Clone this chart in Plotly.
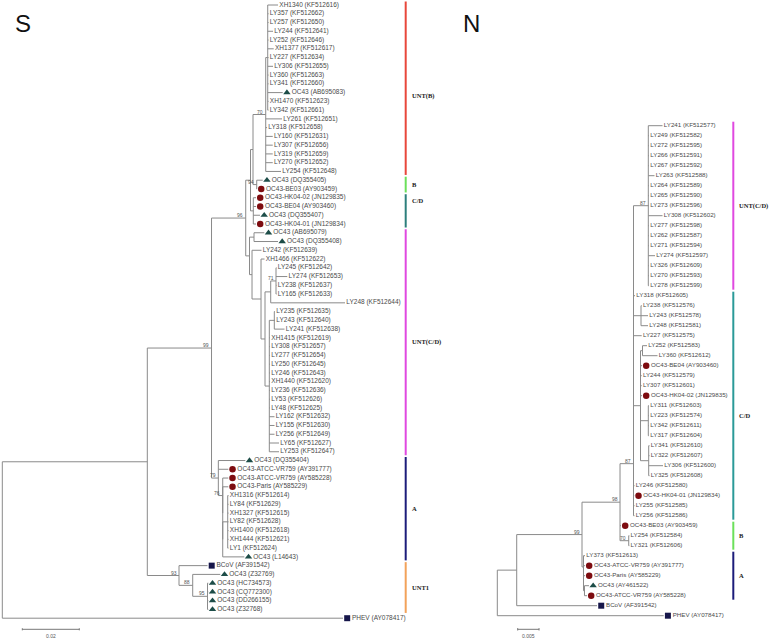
import plotly.graph_objects as go

# ---------------- data ----------------
S_LEAVES = [
    "XH1340 (KF512616)", "LY357 (KF512662)", "LY257 (KF512650)", "LY244 (KF512641)", "LY252 (KF512646)",
    "XH1377 (KF512617)", "LY227 (KF512634)", "LY306 (KF512655)", "LY360 (KF512663)", "LY341 (KF512660)",
    "OC43 (AB695083)", "XH1470 (KF512623)", "LY342 (KF512661)", "LY261 (KF512651)", "LY318 (KF512658)",
    "LY160 (KF512631)", "LY307 (KF512656)", "LY319 (KF512659)", "LY270 (KF512652)", "LY254 (KF512648)",
    "OC43 (DQ355405)", "OC43-BE03 (AY903459)", "OC43-HK04-02 (JN129835)", "OC43-BE04 (AY903460)",
    "OC43 (DQ355407)", "OC43-HK04-01 (JN129834)", "OC43 (AB695079)", "OC43 (DQ355408)",
    "LY242 (KF512639)", "XH1466 (KF512622)", "LY245 (KF512642)", "LY274 (KF512653)", "LY238 (KF512637)",
    "LY165 (KF512633)", "LY248 (KF512644)", "LY235 (KF512635)", "LY243 (KF512640)", "LY241 (KF512638)",
    "XH1415 (KF512619)", "LY308 (KF512657)", "LY277 (KF512654)", "LY250 (KF512645)", "LY246 (KF512643)",
    "XH1440 (KF512620)", "LY236 (KF512636)", "LY53 (KF512626)", "LY48 (KF512625)", "LY162 (KF512632)",
    "LY155 (KF512630)", "LY256 (KF512649)", "LY65 (KF512627)", "LY253 (KF512647)",
    "OC43 (DQ355404)", "OC43-ATCC-VR759 (AY391777)", "OC43-ATCC-VR759 (AY585228)", "OC43-Paris (AY585229)",
    "XH1316 (KF512614)", "LY84 (KF512629)", "XH1327 (KF512615)", "LY82 (KF512628)", "XH1400 (KF512618)",
    "XH1444 (KF512621)", "LY1 (KF512624)", "OC43 (L14643)",
    "BCoV (AF391542)", "OC43 (Z32769)", "OC43 (HC734573)", "OC43 (CQ772300)", "OC43 (DD266155)",
    "OC43 (Z32768)", "PHEV (AY078417)",
]

N_LEAVES = [
    "LY241 (KF512577)", "LY249 (KF512582)", "LY272 (KF512595)", "LY266 (KF512591)", "LY267 (KF512592)",
    "LY263 (KF512588)", "LY264 (KF512589)", "LY265 (KF512590)", "LY273 (KF512596)", "LY308 (KF512602)",
    "LY277 (KF512598)", "LY262 (KF512587)", "LY271 (KF512594)", "LY274 (KF512597)", "LY326 (KF512609)",
    "LY270 (KF512593)", "LY278 (KF512599)",
    "LY318 (KF512605)", "LY238 (KF512576)", "LY243 (KF512578)", "LY248 (KF512581)", "LY227 (KF512575)",
    "LY252 (KF512583)", "LY360 (KF512612)", "OC43-BE04 (AY903460)", "LY244 (KF512579)", "LY307 (KF512601)",
    "OC43-HK04-02 (JN129835)", "LY311 (KF512603)", "LY223 (KF512574)", "LY342 (KF512611)", "LY317 (KF512604)",
    "LY341 (KF512610)", "LY322 (KF512607)", "LY306 (KF512600)", "LY325 (KF512608)", "LY246 (KF512580)",
    "OC43-HK04-01 (JN129834)", "LY255 (KF512585)", "LY256 (KF512586)",
    "OC43-BE03 (AY903459)", "LY254 (KF512584)", "LY321 (KF512606)",
    "LY373 (KF512613)", "OC43-ATCC-VR759 (AY391777)", "OC43-Paris (AY585229)", "OC43 (AY461522)",
    "OC43-ATCC-VR759 (AY585228)",
    "BCoV (AF391542)", "PHEV (AY078417)",
]

# Newick topologies (leaf = index into the leaf list, internal label = bootstrap, :branch length)
S_TREE = """
(((
 (
  (
   (
    ((0:0.00361,1:0.00028,2:0.00028,3:0.00186,4:0.00028,5:0.00211,6:0.00028,7:0.00186,8:0.00028,
      9:0.00028,10:0.00526,11:0.00028,12:0.00028):0.00070,
     13:0.00572,14:0.00046,15:0.00246,16:0.00246,17:0.00246,18:0.00246,19:0.00537)70:0.00446,
    (20:0.00211,21:0.00011)94:0.00130
   ):0.00088,
   (22:0.00095,23:0.00095,24:0.00235,25:0.00095):0.00098
  ):0.00168,
  (
   (26:0.00361,27:0.00842):0.00158,
   (28:0.00333,
    (29:0.00123,
     (((30:0.00018,31:0.00396,32:0.00018,33:0.00018)71:0.00186,34:0.02607):0.00200,
      ((35:0.00025,36:0.00025,37:0.00358):0.00175,38:0.00025,39:0.00025,40:0.00025,41:0.00025,
       42:0.00025,43:0.00025,44:0.00025,45:0.00025,46:0.00025,47:0.00182,48:0.00182,49:0.00182,
       50:0.00340,51:0.00340):0.00151
     ):0.00140
    ):0.00316
   ):0.00088
  ):0.00133
 )96:0.01200,
 (52:0.00947,53:0.00351,
  (54:0.00196,(55:0.00196,((56:0.00028,57:0.00028,58:0.00028,59:0.00028,60:0.00028,61:0.00028,
   62:0.00028):0.00175,63:0.00758):0):0)76:0.00154
 )79:0.00239
)99:0.02253,
(64:0.01000,(65:0.00968,(66:0.00028,67:0.00028,68:0.00028,69:0.00028)95:0.00519)88:0.00481)93:0.01112
):0.05088,70:0.11954);
"""

N_TREE = """
(((
 (
  ((((((
   (0:0.00333,1:0.00016,2:0.00016,3:0.00016,4:0.00016,5:0.00145,6:0.00016,7:0.00016,8:0.00016,9:0.00333,
    10:0.00016,11:0.00016,12:0.00016,13:0.00157,14:0.00016,15:0.00016,16:0.00016)87:0.00347,
   17:0.00035):0,
   (18:0.00016,19:0.00164,20:0.00164):0.00176):0,
   21:0.00192):0,
   ((22:0.00105,23:0.00352):0.00047,24:0.00035,25:0.00028,26:0.00028,27:0.00035,
    (28:0.00016,29:0.00016,30:0.00016,31:0.00016):0.00183,
    (32:0.00019,33:0.00019,34:0.00335,35:0.00019):0.00192):0.00164):0,
   36:0.00023):0,
   (37:0.00019,38:0.00023,39:0.00023):0
  )87:0.00316,
  40:0.00023,
  (41:0.00014,42:0.00014)70:0.00204
 )98:0.00891,
 (43:0.00035,(44:0.00035,45:0.00035,(46:0.00105,47:0.00059):0.00023):0):0.00035
)99:0.01530,
48:0.01882):0.00455,
49:0.03900);
"""

# clade bars: (name, first leaf, last leaf, colour)
S_CLADES = [("UNT(B)", 0, 19, "#e8473b"), ("B", 20, 21, "#6be05a"), ("C/D", 22, 25, "#2d7f7c"),
            ("UNT(C/D)", 26, 51, "#e048e0"), ("A", 52, 63, "#1c1c7a"), ("UNT1", 64, 69, "#f2a25a")]
N_CLADES = [("UNT(C/D)", 0, 16, "#e048e0"), ("C/D", 17, 39, "#2a9a98"), ("B", 40, 42, "#6be05a"),
            ("A", 43, 47, "#1c1c7a")]

S_SCALE_BAR = 0.02
N_SCALE_BAR = 0.005


# ---------------- tree helpers ----------------
def parse_newick(text):
    s = "".join(text.split()).rstrip(";")
    pos = 0

    def node():
        nonlocal pos
        n = {"children": [], "name": "", "bl": 0.0}
        if s[pos] == "(":
            pos += 1
            while True:
                n["children"].append(node())
                if s[pos] == ",":
                    pos += 1
                    continue
                if s[pos] == ")":
                    pos += 1
                    break
        start = pos
        while pos < len(s) and s[pos] not in ":,()":
            pos += 1
        n["name"] = s[start:pos]
        if pos < len(s) and s[pos] == ":":
            pos += 1
            start = pos
            while pos < len(s) and s[pos] not in ",()":
                pos += 1
            n["bl"] = float(s[start:pos])
        return n

    return node()


def layout_tree(root):
    leaves, internals = [], []
    counter = [0]

    def rec(n, x0):
        n["x"] = x0 + n["bl"]
        if not n["children"]:
            n["y"] = counter[0]
            counter[0] += 1
            leaves.append(n)
        else:
            for c in n["children"]:
                rec(c, n["x"])
            n["y"] = (n["children"][0]["y"] + n["children"][-1]["y"]) / 2.0
            internals.append(n)

    rec(root, 0.0)
    return leaves, internals


def kind(label):
    if label.startswith("OC43-"):
        return "circle"
    if label.startswith("OC43 "):
        return "triangle-up"
    if label.startswith("BCoV") or label.startswith("PHEV"):
        return "square"
    return None


MARKER_COLORS = {"circle": "#7d0c10", "triangle-up": "#1d4d48", "square": "#16164a"}
MARKER_SIZES = {"circle": 6.5, "triangle-up": 6.5, "square": 6}

W, H = 770, 638
# pixel geometry of the two panels
S_PX_PER_UNIT, S_ROOT_PX, S_TOP_PX, S_ROW_PX = 2850.0, 2.3, 5.0, 8.76
N_PX_PER_UNIT, N_ROOT_PX, N_TOP_PX, N_ROW_PX = 4267.0, 497.3, 125.7, 10.0

fig = go.Figure()
annotations = []
shapes = []


def draw_tree(newick, names, xa, ya, ppu, font_size):
    root = parse_newick(newick)
    leaves, internals = layout_tree(root)
    xs, ys = [], []
    for n in internals:
        ch = n["children"]
        xs += [n["x"], n["x"], None]
        ys += [ch[0]["y"], ch[-1]["y"], None]
        for c in ch:
            if c["x"] > n["x"]:
                xs += [n["x"], c["x"], None]
                ys += [c["y"], c["y"], None]
    fig.add_trace(go.Scatter(x=xs, y=ys, mode="lines", xaxis=xa, yaxis=ya,
                             line=dict(color="#8a8a8a", width=1), hoverinfo="skip", showlegend=False))
    tx, ty, tt = [], [], []
    mk = {}
    for lf in leaves:
        label = names[int(lf["name"])]
        k = kind(label)
        if k:
            mk.setdefault(k, ([], []))
            mk[k][0].append(lf["x"] + 4.2 / ppu)
            mk[k][1].append(lf["y"])
            tx.append(lf["x"] + 9.0 / ppu)
        else:
            tx.append(lf["x"] + 1.3 / ppu)
        ty.append(lf["y"])
        tt.append(label)
    fig.add_trace(go.Scatter(x=tx, y=ty, text=tt, mode="text", textposition="middle right",
                             xaxis=xa, yaxis=ya, cliponaxis=False,
                             textfont=dict(family="Liberation Sans, Arial", size=font_size, color="#4a4a4a"),
                             hoverinfo="skip", showlegend=False))
    for k, (mx, my) in mk.items():
        fig.add_trace(go.Scatter(x=mx, y=my, mode="markers", xaxis=xa, yaxis=ya, cliponaxis=False,
                                 marker=dict(symbol=k, color=MARKER_COLORS[k], size=MARKER_SIZES[k],
                                             line=dict(width=0)),
                                 hoverinfo="skip", showlegend=False))
    for n in internals:
        if n["name"]:
            annotations.append(dict(x=n["x"], y=n["y"], xref=xa, yref=ya, text=n["name"],
                                    showarrow=False, xanchor="right", yanchor="middle",
                                    xshift=-0.5, yshift=3,
                                    font=dict(family="Liberation Sans, Arial", size=5, color="#555555")))


draw_tree(S_TREE, S_LEAVES, "x", "y", S_PX_PER_UNIT, 6.5)
draw_tree(N_TREE, N_LEAVES, "x2", "y2", N_PX_PER_UNIT, 6.2)

# vertical nudges (pixels, + = down) of clade names relative to their bar centre
S_LABEL_NUDGE = {"UNT(B)": 8, "C/D": -10}
N_LABEL_NUDGE = {"C/D": 10}


def clade_bars(clades, xbar_px, xlab_px, yref, nudge):
    for name, a, b, col in clades:
        shapes.append(dict(type="line", xref="paper", yref=yref, x0=xbar_px / W, x1=xbar_px / W,
                           y0=a - 0.4, y1=b + 0.4, line=dict(color=col, width=2)))
        annotations.append(dict(x=xlab_px / W, y=(a + b) / 2.0, xref="paper", yref=yref,
                                text="<b>%s</b>" % name, showarrow=False, xanchor="left", yanchor="middle",
                                yshift=-nudge.get(name, 0),
                                font=dict(family="Liberation Serif, Times New Roman", size=6.5,
                                          color="#1a1a1a")))


clade_bars(S_CLADES, 405.7, 409.5, "y", S_LABEL_NUDGE)
clade_bars(N_CLADES, 733.3, 736.5, "y2", N_LABEL_NUDGE)


def scale_bar(length, x0, yrow, xref, yref, label):
    shapes.append(dict(type="line", xref=xref, yref=yref, x0=x0, x1=x0 + length, y0=yrow, y1=yrow,
                       line=dict(color="#777777", width=1)))
    for xx in (x0, x0 + length):
        shapes.append(dict(type="line", xref=xref, yref=yref, x0=xx, x1=xx, y0=yrow - 0.12, y1=yrow + 0.12,
                           line=dict(color="#777777", width=1)))
    annotations.append(dict(x=x0 + length / 2, y=yrow, xref=xref, yref=yref, text=label, showarrow=False,
                            yanchor="top", yshift=-1.5,
                            font=dict(family="Liberation Sans, Arial", size=5, color="#555555")))


scale_bar(S_SCALE_BAR, (22.3 - S_ROOT_PX) / S_PX_PER_UNIT, (629.3 - S_TOP_PX) / S_ROW_PX, "x", "y", "0.02")
scale_bar(N_SCALE_BAR, (517.7 - N_ROOT_PX) / N_PX_PER_UNIT, (629.3 - N_TOP_PX) / N_ROW_PX, "x2", "y2", "0.005")

# panel letters
for letter, cx, cy in (("S", 23.3, 24.0), ("N", 471.0, 24.0)):
    annotations.append(dict(x=cx / W, y=1 - cy / H, xref="paper", yref="paper", text=letter,
                            showarrow=False, xanchor="center", yanchor="middle",
                            font=dict(family="Liberation Sans, Arial", size=24, color="#111111")))

hidden = dict(visible=False, showgrid=False, zeroline=False, fixedrange=True)
fig.update_layout(
    width=W, height=H, margin=dict(l=0, r=0, t=0, b=0, pad=0),
    paper_bgcolor="white", plot_bgcolor="white", showlegend=False,
    xaxis=dict(hidden, domain=[0, 1], range=[-S_ROOT_PX / S_PX_PER_UNIT, (W - S_ROOT_PX) / S_PX_PER_UNIT]),
    yaxis=dict(hidden, domain=[0, 1], range=[(H - S_TOP_PX) / S_ROW_PX, -S_TOP_PX / S_ROW_PX]),
    xaxis2=dict(hidden, domain=[0, 1], overlaying="x",
                range=[-N_ROOT_PX / N_PX_PER_UNIT, (W - N_ROOT_PX) / N_PX_PER_UNIT]),
    yaxis2=dict(hidden, domain=[0, 1], overlaying="y",
                range=[(H - N_TOP_PX) / N_ROW_PX, -N_TOP_PX / N_ROW_PX]),
    annotations=annotations, shapes=shapes,
)

fig.write_html("out.html", config={"displayModeBar": False},
               post_script="document.body.style.margin='0px';document.body.style.padding='0px';"
                           "document.body.style.overflow='hidden';")
